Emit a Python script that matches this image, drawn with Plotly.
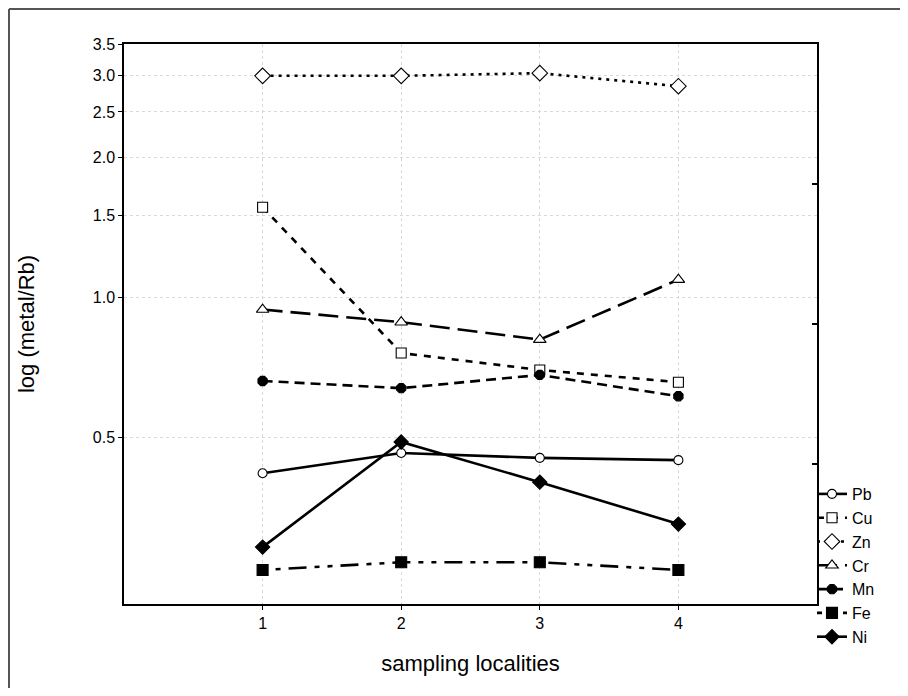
import math
import plotly.graph_objects as go

localities = [1, 2, 3, 4]
series_names = ["Pb", "Cu", "Zn", "Cr", "Mn", "Fe", "Ni"]
pb = [0.418, 0.462, 0.451, 0.446]
cu = [1.56, 0.758, 0.697, 0.656]
zn = [2.99, 2.99, 3.03, 2.84]
cr = [0.94, 0.883, 0.81, 1.09]
mn = [0.66, 0.637, 0.68, 0.612]
fe = [0.259, 0.269, 0.269, 0.259]
ni = [0.290, 0.488, 0.400, 0.325]
y_ticks = [0.5, 1.0, 1.5, 2.0, 2.5, 3.0, 3.5]
y_tick_labels = ["0.5", "1.0", "1.5", "2.0", "2.5", "3.0", "3.5"]
right_ticks = [0.4375, 0.875, 1.75]
x_ticks = [1, 2, 3, 4]

values = [pb, cu, zn, cr, mn, fe, ni]
styles = [
    dict(dash="solid", symbol="circle", size=9, fill="white"),
    dict(dash="7px,7px", symbol="square", size=10, fill="white"),
    dict(dash="3px,5px", symbol="diamond", size=12, fill="white"),
    dict(dash="20px,8px", symbol="triangle-up", size=11, fill="white"),
    dict(dash="10px,6px", symbol="octagon", size=10, fill="black"),
    dict(dash="5px,8px,5px,8px,18px,8px", symbol="square", size=11, fill="black"),
    dict(dash="solid", symbol="diamond", size=11, fill="black"),
]

fig = go.Figure()
for name, vals, st in zip(series_names, values, styles):
    fig.add_trace(go.Scatter(
        x=localities, y=vals, name=name, mode="lines+markers",
        line=dict(color="black", width=2.6, dash=st["dash"]),
        marker=dict(symbol=st["symbol"], size=st["size"], color=st["fill"],
                    line=dict(color="black", width=1.1)),
    ))

# invisible trace on the secondary axis so its ticks render
fig.add_trace(go.Scatter(x=[0], y=[1], yaxis="y2", mode="markers",
                         marker=dict(opacity=0), showlegend=False, hoverinfo="skip"))

ymin, ymax = 0.2188, 3.5
yrange = [math.log10(ymin), math.log10(ymax)]

# page body has an 8px margin; figure pixel = page pixel - 8
W, H = 892, 680
L, T = 116, 36
R = W - (817 - 8)
B = H - (604 - 8)
pw, ph = W - L - R, H - T - B

def px_x(p):
    return (p - L) / pw

def px_y(p):
    return (H - B - p) / ph

tickfont = dict(family="Liberation Sans, Arial, sans-serif", size=16)
frame = dict(color="#555555", width=2)

fig.update_layout(
    width=W, height=H,
    margin=dict(l=L, r=R, t=T, b=B, autoexpand=False),
    paper_bgcolor="white", plot_bgcolor="white",
    font=dict(family="Liberation Sans, Arial, sans-serif", color="black"),
    xaxis=dict(
        range=[0, 5], tickvals=x_ticks, ticktext=[str(v) for v in x_ticks],
        showgrid=True, gridcolor="#d9d9d9", griddash="dot", gridwidth=1,
        showline=True, linecolor="black", linewidth=1.5, mirror=True,
        ticks="outside", ticklen=4, tickcolor="black",
        tickfont=tickfont, automargin=False,
        title=dict(text="sampling localities", font=dict(size=22), standoff=25),
        zeroline=False,
    ),
    yaxis=dict(
        type="log", range=yrange, tickvals=y_ticks, ticktext=y_tick_labels,
        showgrid=True, gridcolor="#d9d9d9", griddash="dot", gridwidth=1,
        showline=True, linecolor="black", linewidth=1.5, mirror=True,
        ticks="outside", ticklen=4, tickcolor="black",
        tickfont=tickfont, automargin=False,
        title=dict(text="log (metal/Rb)", font=dict(size=22), standoff=52),
        zeroline=False,
    ),
    yaxis2=dict(
        type="log", range=yrange, overlaying="y", side="right",
        tickvals=right_ticks, showticklabels=False, ticks="inside", ticklen=5,
        tickcolor="black", tickwidth=1.5, showgrid=False, showline=False,
        zeroline=False, automargin=False,
    ),
    legend=dict(
        xref="container", yref="container",
        x=804 / W, y=1 - 469 / H, xanchor="left", yanchor="top",
        font=dict(size=16), bgcolor="rgba(0,0,0,0)", tracegroupgap=0,
        itemwidth=30,
    ),
    showlegend=True,
    shapes=[
        dict(type="line", xref="paper", yref="paper",
             x0=px_x(1), x1=px_x(W), y0=px_y(1), y1=px_y(1), line=frame, layer="below"),
        dict(type="line", xref="paper", yref="paper",
             x0=px_x(1), x1=px_x(1), y0=px_y(1), y1=px_y(H), line=frame, layer="below"),
    ],
)

fig.write_html("out.html")
